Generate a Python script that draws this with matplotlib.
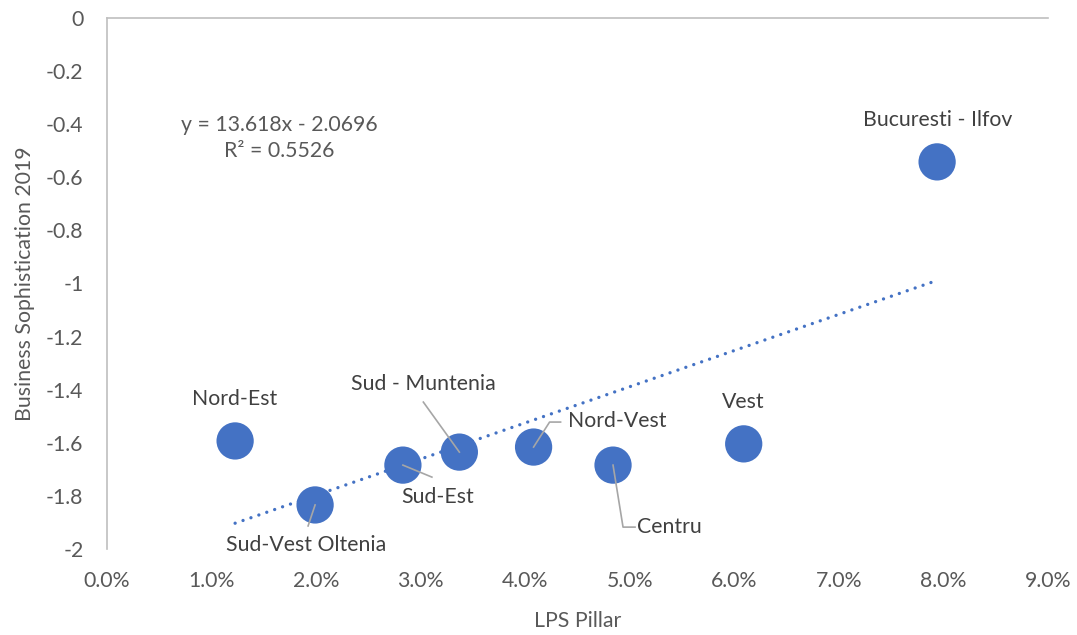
import numpy as np
import matplotlib.pyplot as plt
from matplotlib.ticker import FuncFormatter

plt.rcParams['font.family'] = ['Lato', 'DejaVu Sans']

regions = ['Nord-Est', 'Sud-Vest Oltenia', 'Sud-Est', 'Sud - Muntenia',
           'Nord-Vest', 'Centru', 'Vest', 'Bucuresti - Ilfov']
lps = [0.01225, 0.0199, 0.0283, 0.0337, 0.0408, 0.0484, 0.0609, 0.0794]
soph = [-1.593, -1.834, -1.684, -1.635, -1.616, -1.684, -1.604, -0.542]

slope = 13.618
intercept = -2.0696
r2 = 0.5526

x_ticks = [0.0, 0.01, 0.02, 0.03, 0.04, 0.05, 0.06, 0.07, 0.08, 0.09]
y_ticks = [0, -0.2, -0.4, -0.6, -0.8, -1, -1.2, -1.4, -1.6, -1.8, -2]

blue = '#4472C4'
grey_text = '#595959'
label_text = '#404040'
leader = '#A6A6A6'
fs = 15.3

# label offset (pixels) and leader line vertices (pixels) per region
label_pos = {
    'Nord-Est': (0, 42, None),
    'Sud-Vest Oltenia': (-9, -40, [(0, 0), (-7, -21)]),
    'Sud-Est': (35, -32, [(0, 0), (29, -12)]),
    'Sud - Muntenia': (-36, 68, [(0, 0), (-36, 50)]),
    'Nord-Vest': (84, 26, [(0, 0), (16, 25), (27, 25)]),
    'Centru': (56, -62, [(0, 0), (10, -62), (22, -62)]),
    'Vest': (0, 42, None),
    'Bucuresti - Ilfov': (1, 42, None),
}

fig = plt.figure(figsize=(10.77, 6.35), dpi=100)
ax = fig.add_axes([0.0994, 0.1354, 0.8736, 0.8363])

ax.set_xlim(0, 0.09)
ax.set_ylim(-2, 0)
ax.set_xticks(x_ticks)
ax.set_yticks(y_ticks)
ax.xaxis.set_major_formatter(FuncFormatter(lambda v, p: f'{v * 100:.1f}%'))
ax.yaxis.set_major_formatter(FuncFormatter(lambda v, p: f'{v:g}'))
ax.tick_params(axis='both', length=0, labelsize=fs, colors=grey_text)
ax.tick_params(axis='y', pad=17)
ax.tick_params(axis='x', pad=16)

for side in ['right', 'bottom']:
    ax.spines[side].set_visible(False)
for side in ['left', 'top']:
    ax.spines[side].set_color('#BFBFBF')
    ax.spines[side].set_linewidth(1.2)

ax.set_xlabel('LPS Pillar', fontsize=fs, color=grey_text, labelpad=14)
ax.set_ylabel('Business Sophistication 2019', fontsize=fs, color=grey_text, labelpad=8)

# linear trendline
tx = np.array([min(lps), max(lps)])
ax.plot(tx, slope * tx + intercept, color=blue, lw=2.4,
        linestyle=(0, (0.01, 2.5)), dash_capstyle='round', zorder=2)

ax.scatter(lps, soph, s=720, color=blue, edgecolors='none', zorder=3)

ax.text(0.0165, -0.452, f'y = {slope}x - {-intercept}\nR² = {r2}',
        ha='center', va='center', fontsize=fs, color=grey_text, linespacing=1.4)

for name, x, y in zip(regions, lps, soph):
    dx, dy, path = label_pos[name]
    ax.annotate(name, (x, y), xytext=(dx, dy), textcoords='offset pixels',
                ha='center', va='center', fontsize=fs, color=label_text, zorder=5)
    if path:
        px, py = ax.transData.transform((x, y))
        pts = np.array(path, dtype=float) + [px, py]
        ax.plot(pts[:, 0], pts[:, 1], transform=None, color=leader, lw=1.2,
                zorder=4, clip_on=False)

fig.savefig('out.png', dpi=100)
